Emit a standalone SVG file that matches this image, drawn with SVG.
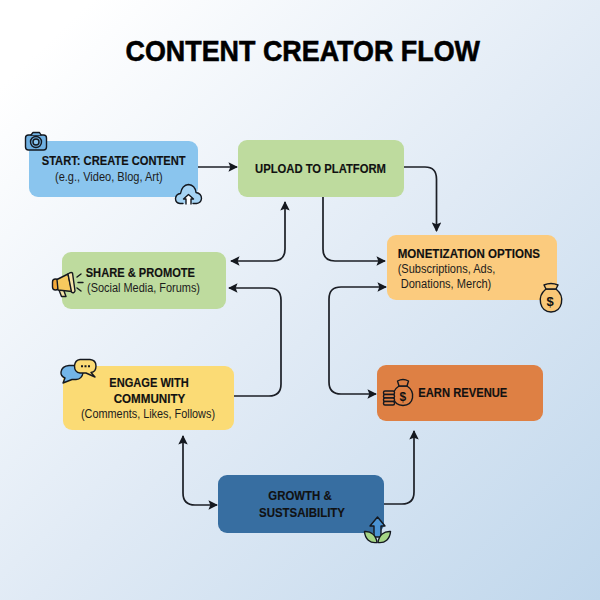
<svg xmlns="http://www.w3.org/2000/svg" width="600" height="600" viewBox="0 0 600 600">
<style>
text{font-family:"Liberation Sans",Arial,sans-serif;fill:#111;text-anchor:start}
.t{font-size:13px;font-weight:700;stroke:#111;stroke-width:.15}
.s{font-size:12.500px;fill:#1c1c1c}
.c{fill:none;stroke:#1c1f26;stroke-width:1.7}
.i{stroke:#14181f;stroke-width:1.4;stroke-linejoin:round;stroke-linecap:round}
.n{fill:none}
</style>
<defs>
<linearGradient id="bg" x1="0.1" y1="0.05" x2="1" y2="1"><stop offset="0" stop-color="#ffffff"/><stop offset="0.5" stop-color="#e0eaf5"/><stop offset="1" stop-color="#c0d7ec"/></linearGradient>
<marker id="a" viewBox="0 0 10 10" refX="9" refY="5" markerWidth="9.500" markerHeight="9.500" markerUnits="userSpaceOnUse" orient="auto-start-reverse"><path d="M0 0L10 5L0 10L2 5Z" fill="#14181f"/></marker>
</defs>
<rect width="600" height="600" fill="url(#bg)"/>
<text x="125.500" y="60.800" style="font-size:30px;font-weight:700;stroke:#000;stroke-width:.6;fill:#000" textLength="354.500" lengthAdjust="spacingAndGlyphs">CONTENT CREATOR FLOW</text>
<g id="connectors">
<path class="c" marker-end="url(#a)" d="M198 167H237"/>
<path class="c" marker-end="url(#a)" d="M404 167H425Q436.500 167 436.500 179V231"/>
<path class="c" marker-end="url(#a)" d="M323 197V249Q323 261 335 261H385"/>
<path class="c" marker-start="url(#a)" marker-end="url(#a)" d="M285 202V249Q285 261 273 261H231"/>
<path class="c" marker-start="url(#a)" marker-end="url(#a)" d="M386 287H341Q329 287 329 299V382Q329 394 341 394H376"/>
<path class="c" marker-end="url(#a)" d="M234 396H269Q281 396 281 384V300Q281 288 269 288H229"/>
<path class="c" marker-start="url(#a)" marker-end="url(#a)" d="M183 436V493Q183 505 195 505H217"/>
<path class="c" marker-end="url(#a)" d="M384 504H402Q414 504 414 492V431"/>
</g>
<g id="start">
<rect x="29" y="141" width="169" height="56" rx="9" fill="#8ac5ee"/>
<text class="t" x="41.700" y="165.300" textLength="144" lengthAdjust="spacingAndGlyphs">START: CREATE CONTENT</text>
<text class="s" x="55" y="181" textLength="107.700" lengthAdjust="spacingAndGlyphs">(e.g., Video, Blog, Art)</text>
<rect class="i" x="25.500" y="135" width="21" height="15" rx="3" fill="#6fb0e2"/>
<path class="i" d="M31 135L33 132.500H39.500L41 135" fill="#6fb0e2"/>
<circle class="i" cx="36" cy="142" r="5.500" fill="#6fb0e2"/>
<circle class="i" cx="36" cy="142" r="3" fill="#8ac5ee"/>
<path class="i" d="M183 203.500H180Q175.500 203 175.500 198.500Q176 194 180.500 193.500Q182 185 188.500 184.500Q195 185 196 192.500Q201.500 193.500 201.500 198.500Q201 203 196.500 203.500H193" fill="#a6d4f4"/>
<path class="i" d="M186 204V199H183.500L188.500 194.500L193.500 199H191V204" fill="#fff"/>
</g>
<g id="upload">
<rect x="238" y="140" width="166" height="57" rx="9" fill="#bedb9e"/>
<text class="t" x="255" y="173.300" textLength="131" lengthAdjust="spacingAndGlyphs">UPLOAD TO PLATFORM</text>
</g>
<g id="share">
<rect x="62" y="252" width="164" height="57" rx="9" fill="#bedb9e"/>
<text class="t" x="85.700" y="277.300" textLength="109.300" lengthAdjust="spacingAndGlyphs">SHARE &amp; PROMOTE</text>
<text class="s" x="87" y="292" textLength="113" lengthAdjust="spacingAndGlyphs">(Social Media, Forums)</text>
<rect class="i" x="52.500" y="279" width="6" height="11" rx="3" fill="#f4a93a"/>
<path class="i" d="M59 290L61.500 296.500H66L64 291" fill="#f4e3a8"/>
<path class="i" d="M57 279.500L68 274L72 291.500L58 290Z" fill="#f6c95e"/>
<path class="i" d="M68 274Q71 271.500 72.500 273L75 291Q73.500 294 71.500 292Z" fill="#f4e3a8"/>
<path class="i n" d="M77 277L81 274M78 282.500H83M77 288L81 291"/>
</g>
<g id="monetization">
<rect x="387" y="235" width="170" height="65" rx="9" fill="#fbcb7e"/>
<text class="t" x="397.700" y="257.700" textLength="142.300" lengthAdjust="spacingAndGlyphs">MONETIZATION OPTIONS</text>
<text class="s" x="397.700" y="273" textLength="97.600" lengthAdjust="spacingAndGlyphs">(Subscriptions, Ads,</text>
<text class="s" x="400.700" y="288" textLength="90.600" lengthAdjust="spacingAndGlyphs">Donations, Merch)</text>
<path class="i" d="M546 289C536 297 540 311.500 551 312C562 311.500 566 297 556 289Z" fill="#f8c777"/>
<path class="i" d="M546 289L544 285Q551 282 558 285L556 289Z" fill="#f8c777"/>
<text x="546.500" y="306" style="font-size:13px;font-weight:700">$</text>
</g>
<g id="engage">
<rect x="63" y="366" width="171" height="64" rx="9" fill="#fbdb75"/>
<text class="t" x="109.300" y="387" textLength="79.400" lengthAdjust="spacingAndGlyphs">ENGAGE WITH</text>
<text class="t" x="113.700" y="403" textLength="71.600" lengthAdjust="spacingAndGlyphs">COMMUNITY</text>
<text class="s" x="81" y="418" textLength="134" lengthAdjust="spacingAndGlyphs">(Comments, Likes, Follows)</text>
<path class="i" d="M69 365.500H76Q83 366 83 373Q82 379 76 379.500H72L63 383L65 378Q60.500 376 61 372Q62 366 69 365.500Z" fill="#73b5e8"/>
<path class="i" d="M80 359.500H90Q96 360 96 366Q96 372 91 372.500L95 377L86 373H80Q74.500 372.500 74.500 366Q75 360 80 359.500Z" fill="#fbdb75"/>
<path d="M81 366.300H90" stroke="#14181f" stroke-width="2" stroke-dasharray="2 1.500"/>
</g>
<g id="revenue">
<rect x="377" y="365" width="166" height="56" rx="9" fill="#de8044"/>
<text class="t" x="418.300" y="397.300" textLength="89" lengthAdjust="spacingAndGlyphs">EARN REVENUE</text>
<path class="i" d="M399 386C390 392 392 405 403 405.500C414 405 416 392 407 386Z" fill="#de8044"/>
<path class="i" d="M399 386L397.500 381Q403 378 408.500 381L407 386Z" fill="#de8044"/>
<text x="399.500" y="401" style="font-size:12px;font-weight:700">$</text>
<rect class="i" x="383.500" y="391" width="11" height="3.500" rx="1.500" fill="#de8044"/>
<rect class="i" x="383.500" y="394.500" width="11" height="3.500" rx="1.500" fill="#de8044"/>
<rect class="i" x="383.500" y="398" width="11" height="3.500" rx="1.500" fill="#de8044"/>
<rect class="i" x="383.500" y="401.500" width="11" height="3.500" rx="1.500" fill="#de8044"/>
</g>
<g id="growth">
<rect x="218" y="475" width="166" height="58" rx="9" fill="#376ea1"/>
<text class="t" x="268.300" y="500.300" textLength="63.400" lengthAdjust="spacingAndGlyphs">GROWTH &amp;</text>
<text class="t" x="259" y="516.700" textLength="86" lengthAdjust="spacingAndGlyphs">SUSTSAIBILITY</text>
<path class="i" d="M374 537V526H370L377.500 517L385 526H381V537Z" fill="#4a93d4"/>
<path class="i" d="M377 542.500C370 543.500 365 539 364.500 531.500C371 531 376 535 377 542.500Z" fill="#a5d585"/>
<path class="i" d="M378 542.500C385 543.500 390 539 390.500 531.500C384 531 379 535 378 542.500Z" fill="#a5d585"/>
</g>
</svg>
